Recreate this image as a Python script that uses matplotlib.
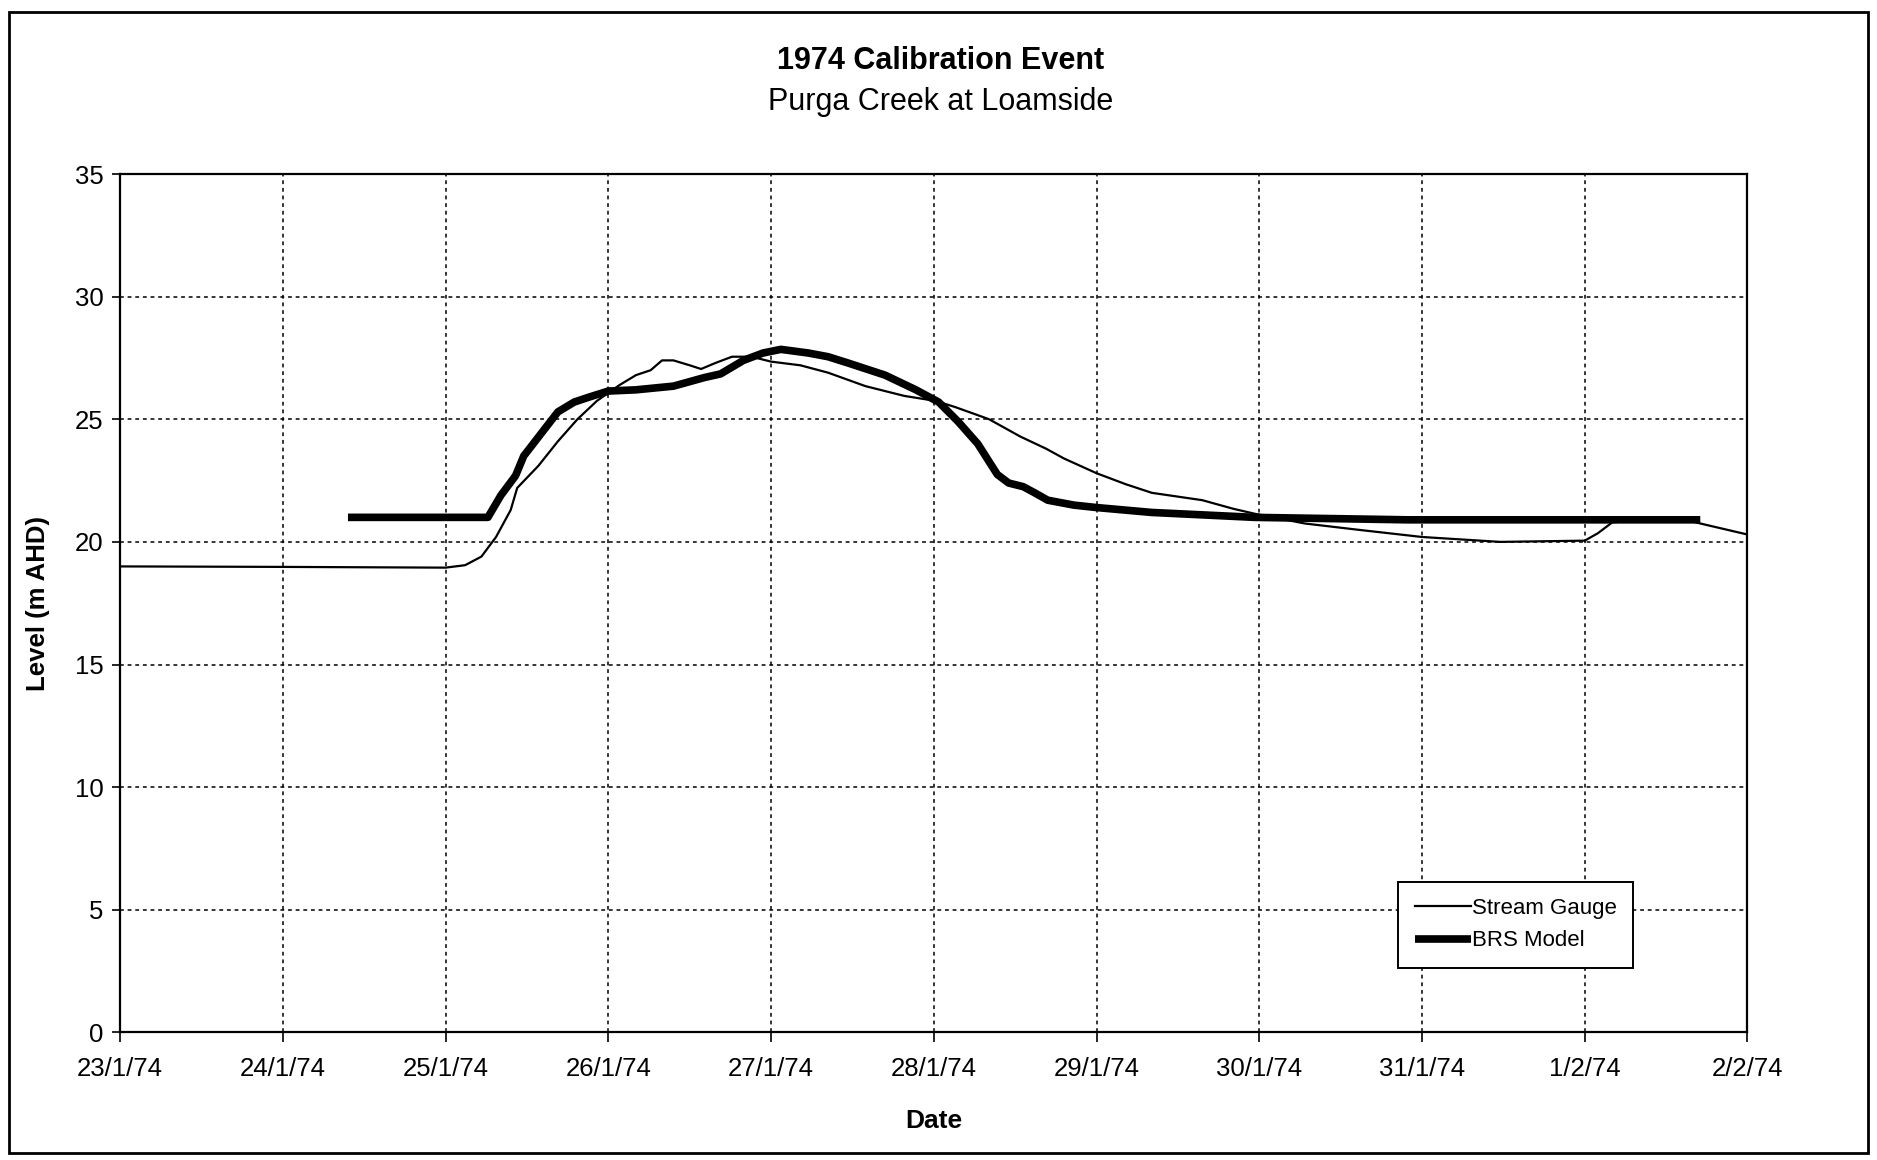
"""Stage hydrograph for the 1974 calibration event, Purga Creek at Loamside."""
import matplotlib

matplotlib.use("Agg")
import matplotlib.pyplot as plt
from matplotlib.patches import Rectangle

plt.rcParams["font.family"] = ["Liberation Sans", "DejaVu Sans"]

# time is in days after 23/1/74 00:00
gauge_day = [0.0, 1.0, 2.0, 2.12, 2.22, 2.31, 2.40, 2.44, 2.57, 2.69, 2.81, 2.93,
             3.07, 3.17, 3.26, 3.33, 3.40, 3.50, 3.57, 3.66, 3.76, 3.88, 4.0,
             4.18, 4.35, 4.58, 4.82, 5.01, 5.13, 5.34, 5.53, 5.69, 5.80, 6.0,
             6.18, 6.34, 6.65, 6.84, 6.97, 7.28, 7.60, 8.0, 8.48, 9.0, 9.08,
             9.17, 9.3, 9.65, 9.71, 10.0]
gauge_level = [19.0, 18.98, 18.95, 19.05, 19.4, 20.2, 21.3, 22.2, 23.1, 24.1, 25.0, 25.75,
               26.4, 26.8, 27.0, 27.4, 27.4, 27.2, 27.05, 27.3, 27.55, 27.55, 27.35,
               27.2, 26.9, 26.35, 25.95, 25.75, 25.5, 25.0, 24.3, 23.8, 23.4, 22.8,
               22.35, 22.0, 21.7, 21.35, 21.15, 20.75, 20.5, 20.2, 20.0, 20.05, 20.35,
               20.8, 20.85, 20.85, 20.75, 20.3]

model_day = [1.40, 2.0, 2.26, 2.34, 2.43, 2.48, 2.55, 2.62, 2.69, 2.79, 2.88, 3.0,
             3.17, 3.40, 3.59, 3.69, 3.83, 3.95, 4.06, 4.23, 4.35, 4.47, 4.70,
             4.89, 5.03, 5.15, 5.27, 5.39, 5.46, 5.55, 5.62, 5.70, 5.86, 6.0,
             6.34, 6.97, 7.91, 9.0, 9.71]
model_level = [21.0, 21.0, 21.0, 21.9, 22.7, 23.5, 24.1, 24.7, 25.3, 25.7, 25.9, 26.15,
               26.2, 26.35, 26.7, 26.85, 27.4, 27.7, 27.85, 27.7, 27.55, 27.3, 26.8,
               26.2, 25.7, 24.9, 24.0, 22.75, 22.4, 22.25, 22.0, 21.7, 21.5, 21.4,
               21.2, 21.0, 20.9, 20.9, 20.9]

date_labels = ["23/1/74", "24/1/74", "25/1/74", "26/1/74", "27/1/74", "28/1/74",
               "29/1/74", "30/1/74", "31/1/74", "1/2/74", "2/2/74"]
level_ticks = [0, 5, 10, 15, 20, 25, 30, 35]

fig = plt.figure(figsize=(18.77, 11.6), dpi=100)
fig.patches.append(Rectangle((0.005, 0.006), 0.990, 0.984, transform=fig.transFigure,
                             fill=False, edgecolor="black", linewidth=2.0))

ax = fig.add_axes([0.064, 0.110, 0.867, 0.740])
ax.plot(gauge_day, gauge_level, color="black", linewidth=1.6, label="Stream Gauge")
ax.plot(model_day, model_level, color="black", linewidth=5.5, label="BRS Model",
        solid_capstyle="butt")

ax.set_xlim(0, len(date_labels) - 1)
ax.set_ylim(0, 35)
ax.set_xticks(range(len(date_labels)))
ax.set_xticklabels(date_labels)
ax.set_yticks(level_ticks)
ax.grid(True, color="black", linestyle=(0, (2.5, 2.5)), linewidth=1.1)
ax.tick_params(axis="x", direction="out", length=7, width=1.2, pad=11, labelsize=18.5)
ax.tick_params(axis="y", direction="out", length=6, width=1.2, pad=6, labelsize=18.5)
for spine in ax.spines.values():
    spine.set_linewidth(1.6)

ax.set_xlabel("Date", fontsize=19, fontweight="bold", labelpad=20)
ax.set_ylabel("Level (m AHD)", fontsize=18.5, fontweight="bold", labelpad=18)

fig.text(0.501, 0.947, "1974 Calibration Event", ha="center", va="center",
         fontsize=22, fontweight="bold")
fig.text(0.501, 0.912, "Purga Creek at Loamside", ha="center", va="center", fontsize=22)

leg = ax.legend(loc="upper left", bbox_to_anchor=(0.745, 0.240),
                bbox_transform=fig.transFigure, borderaxespad=0, fontsize=16,
                frameon=True, fancybox=False, edgecolor="black", framealpha=1,
                handlelength=2.5, handletextpad=0.05, borderpad=0.75, labelspacing=0.5)
leg.get_frame().set_linewidth(1.4)

fig.savefig("out.png", dpi=100)
